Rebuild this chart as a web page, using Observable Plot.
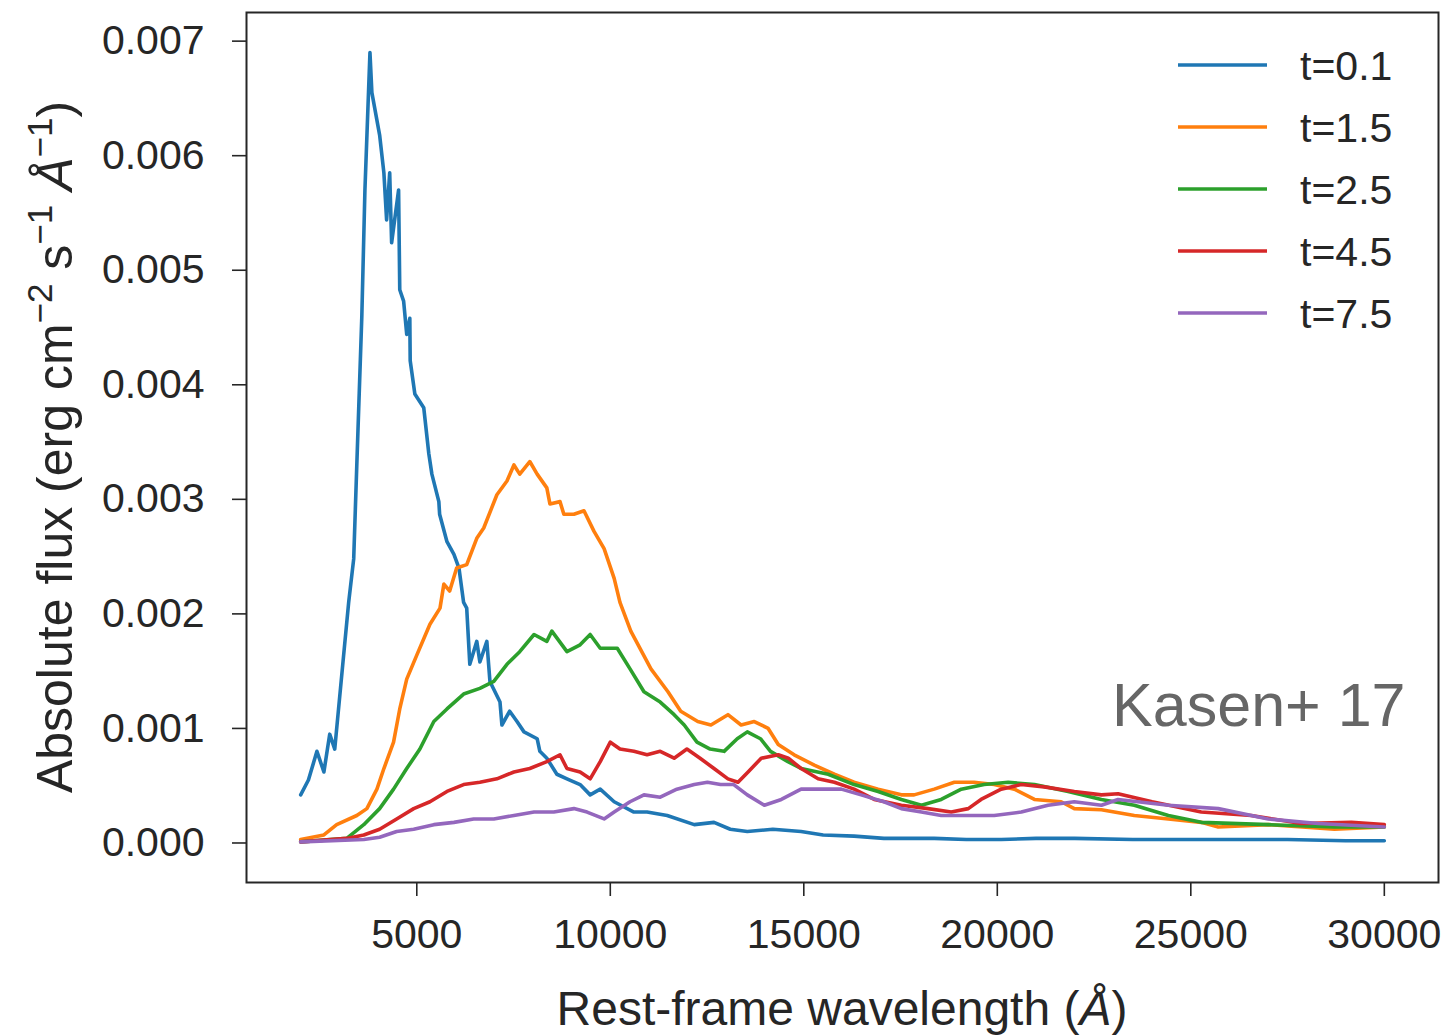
<!DOCTYPE html>
<html><head><meta charset="utf-8">
<script src="https://cdn.jsdelivr.net/npm/d3@7"></script>
<script src="https://cdn.jsdelivr.net/npm/@observablehq/plot@0.6"></script>
<style>body{margin:0;background:#fff} svg{font-family:"Liberation Sans", Arial, sans-serif}</style>
</head><body><div id="chart"></div>
<script>
const seriesNames = ["t=0.1","t=1.5","t=2.5","t=4.5","t=7.5"];
const seriesColors = ["#1f77b4","#ff7f0e","#2ca02c","#d62728","#9467bd"];
const xTicks = [5000,10000,15000,20000,25000,30000];
const yTicks = [0,0.001,0.002,0.003,0.004,0.005,0.006,0.007];
const xLabel = "Rest-frame wavelength";
const annotation = "Kasen+ 17";

// [wavelength (Å), flux]
const t01 = [[2000,.00042],[2200,.00055],[2420,.0008],[2600,.00062],[2750,.00095],[2880,.00082],[3110,.00164],[3240,.0021],[3370,.00248],[3450,.0033],
[3580,.0046],[3660,.0057],[3790,.0069],[3840,.00655],[4040,.00618],[4150,.00585],[4220,.00544],[4300,.00585],[4350,.00524],[4530,.0057],
[4560,.00483],[4660,.00473],[4740,.00444],[4820,.00458],[4830,.00421],[4950,.00392],[5180,.0038],[5310,.0034],[5390,.00322],[5570,.00298],
[5590,.00287],[5780,.00263],[5960,.00252],[6090,.0024],[6210,.0021],[6290,.00205],[6370,.00156],[6550,.00176],[6630,.00158],[6810,.00176],
[6890,.00141],[7150,.00123],[7200,.00103],[7400,.00115],[7590,.00106],[7770,.00097],[8110,.00091],[8180,.0008],[8360,.00074],[8620,.0006],
[8880,.00056],[9220,.00051],[9480,.00042],[9740,.00047],[10100,.00036],[10610,.00027],[10950,.00027],[11470,.00024],[12170,.00016],[12680,.00018],
[13100,.00012],[13540,.0001],[14200,.00012],[14930,.0001],[15500,.00007],[16300,.00006],[17070,.00004],[18370,.00004],[19200,.00003],[20100,.00003],
[21000,.00004],[22000,.00004],[23500,.00003],[25000,.00003],[26500,.00003],[27500,.00003],[29000,.00002],[30000,.00002]];

const t15 = [[2000,.00003],[2600,.00007],[2930,.00016],[3450,.00024],[3710,.0003],[3970,.00047],[4150,.00065],[4400,.00088],[4560,.00117],[4740,.00143],
[5000,.00164],[5340,.00191],[5600,.00205],[5700,.00226],[5850,.0022],[6030,.0024],[6290,.00243],[6550,.00266],[6730,.00275],[7070,.00304],
[7330,.00316],[7510,.0033],[7660,.00322],[7920,.00333],[8110,.00322],[8360,.0031],[8440,.00296],[8700,.00298],[8800,.00287],[9060,.00287],
[9320,.0029],[9580,.00272],[9840,.00257],[10100,.00231],[10250,.0021],[10530,.00185],[11050,.00152],[11490,.00132],[11820,.00115],[12260,.00106],
[12600,.00103],[13040,.00112],[13380,.00103],[13720,.00106],[14080,.001],[14340,.00086],[14750,.00077],[15270,.00068],[15790,.0006],[16300,.00053],
[16920,.00047],[17520,.00042],[17850,.00042],[18370,.00047],[18890,.00053],[19400,.00053],[19920,.00051],[20440,.00047],[20960,.00038],[21650,.00036],
[21990,.0003],[22690,.00029],[23540,.00024],[24420,.00021],[25270,.00018],[25710,.00014],[27000,.00016],[28710,.00012],[30000,.00014]];

const t25 = [[2000,.00001],[3190,.00004],[3630,.00016],[4040,.0003],[4400,.00047],[4740,.00065],[5080,.00082],[5440,.00106],[5780,.00117],[6210,.0013],
[6630,.00135],[6990,.00141],[7330,.00156],[7660,.00167],[8030,.00182],[8360,.00176],[8490,.00185],[8880,.00167],[9220,.00173],[9480,.00182],
[9740,.0017],[10180,.0017],[10510,.00152],[10870,.00132],[11290,.00123],[11650,.00112],[11910,.00103],[12240,.00088],[12580,.00082],[12940,.0008],
[13280,.00091],[13540,.00097],[13880,.00091],[14140,.0008],[14590,.00071],[14930,.00065],[15630,.0006],[16300,.00051],[16920,.00045],[17520,.00038],
[18040,.00033],[18550,.00038],[19070,.00047],[19660,.00051],[20280,.00053],[20960,.00051],[21830,.00045],[22690,.00038],[23540,.00033],[24420,.00024],
[25270,.00018],[27000,.00016],[28710,.00014],[30000,.00014]];

const t45 = [[2000,.00001],[3190,.00004],[3630,.00007],[4040,.00012],[4480,.00021],[4920,.0003],[5340,.00036],[5780,.00045],[6210,.00051],[6630,.00053],
[7070,.00056],[7510,.00062],[7920,.00065],[8360,.00071],[8700,.00077],[8880,.00065],[9220,.00062],[9480,.00056],[9740,.00071],[10000,.00088],
[10250,.00082],[10610,.0008],[10950,.00077],[11290,.0008],[11650,.00074],[11980,.00082],[12320,.00074],[12680,.00065],[13040,.00056],[13300,.00053],
[13560,.00062],[13900,.00074],[14340,.00077],[14600,.00074],[14930,.00065],[15370,.00056],[15790,.00053],[16300,.00047],[16820,.00038],[17520,.00033],
[18210,.0003],[18810,.00027],[19250,.0003],[19580,.00038],[20100,.00047],[20620,.00051],[21210,.00049],[21990,.00045],[22690,.00042],[23120,.00043],
[24000,.00036],[25270,.00027],[26560,.00024],[27850,.00017],[29150,.00018],[30000,.00016]];

const t75 = [[2000,.00001],[3630,.00003],[4040,.00005],[4480,.0001],[4920,.00012],[5440,.00016],[5960,.00018],[6470,.00021],[6990,.00021],[7510,.00024],
[8030,.00027],[8540,.00027],[9060,.0003],[9400,.00027],[9840,.00021],[10100,.00027],[10510,.00036],[10870,.00042],[11290,.0004],[11720,.00047],
[12170,.00051],[12510,.00053],[12850,.00051],[13190,.00051],[13540,.00042],[13980,.00033],[14420,.00038],[14930,.00047],[15450,.00047],[15970,.00047],
[16480,.00042],[17070,.00036],[17520,.0003],[18040,.00027],[18550,.00024],[19250,.00024],[19920,.00024],[20620,.00027],[21310,.00033],[21990,.00036],
[22690,.00033],[23120,.00038],[24420,.00033],[25710,.0003],[27000,.00021],[28290,.00017],[30000,.00014]];

const seriesValues = [t01, t15, t25, t45, t75];
const rows = [];
seriesValues.forEach((vals, i) => vals.forEach(([w, f]) => rows.push({wl: w, flux: f, series: seriesNames[i]})));

const ink = "#262626";
const plot = Plot.plot({
  width: 1444, height: 1036,
  marginLeft: 246, marginRight: 6, marginTop: 12, marginBottom: 154,
  style: {fontFamily: "Liberation Sans, Arial, sans-serif", fontSize: "41px", color: ink, background: "#fff"},
  x: {domain: [600, 31400]},
  y: {domain: [-0.000345, 0.00725]},
  color: {domain: seriesNames, range: seriesColors},
  marks: [
    Plot.axisX({ticks: xTicks, tickFormat: d => String(d), tickSize: 14, tickPadding: 22, label: null, strokeWidth: 1.6}),
    Plot.axisY({ticks: yTicks, tickFormat: d3.format(".3f"), tickSize: 14, tickPadding: 28, label: null, strokeWidth: 1.6}),
    Plot.line(rows, {x: "wl", y: "flux", stroke: "series", z: "series", strokeWidth: 3.6, strokeLinejoin: "round", strokeLinecap: "round"}),
    Plot.frame({stroke: ink, strokeWidth: 2}),
    Plot.text([annotation], {text: d => d, frameAnchor: "bottom-right", dx: -33, dy: -157, lineAnchor: "bottom", textAnchor: "end", fontSize: 61, fill: "#666"})
  ]
});
document.getElementById("chart").appendChild(plot);

const svg = d3.select(plot);
// legend
const lg = svg.append("g").attr("text-anchor", "start");
seriesNames.forEach((n, i) => {
  const y = 65 + i * 62;
  lg.append("line").attr("x1", 1178).attr("x2", 1267).attr("y1", y).attr("y2", y)
    .attr("stroke", seriesColors[i]).attr("stroke-width", 3.6);
  lg.append("text").attr("x", 1300).attr("y", y).attr("dy", "0.36em").attr("text-anchor", "start")
    .attr("font-size", 41).attr("fill", ink).text(n);
});
// x label
const xl = svg.append("text").attr("x", 842).attr("y", 1025).attr("text-anchor", "middle")
  .attr("font-size", 48).attr("fill", ink);
xl.append("tspan").text(xLabel + " (");
xl.append("tspan").attr("font-style", "italic").text("Å");
xl.append("tspan").text(")");
// y label
const yl = svg.append("text").attr("transform", "translate(72,447) rotate(-90)").attr("text-anchor", "middle")
  .attr("font-size", 50).attr("fill", ink);
const parts = [["Absolute flux (erg cm", 0], ["−2", 1], [" s", 0], ["−1", 1], [" ", 0], ["Å", 2], ["−1", 1], [")", 0]];
let shift = 0;
parts.forEach(([t, k]) => {
  const ts = yl.append("tspan").text(t);
  const target = k === 1 ? -20 : 0;
  ts.attr("dy", target - shift); shift = target;
  if (k === 1) ts.attr("font-size", 35);
  if (k === 2) ts.attr("font-style", "italic");
});
</script>
</body></html>
